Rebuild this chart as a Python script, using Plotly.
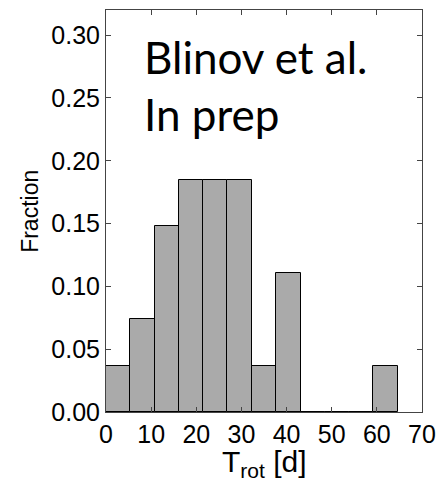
import plotly.graph_objects as go

# Histogram of rotation periods
bin_edges = [0, 5.4, 10.8, 16.2, 21.5, 26.9, 32.3, 37.7, 43.1, 48.5, 53.8, 59.2, 64.6]
fractions = [0.037, 0.074, 0.148, 0.185, 0.185, 0.185, 0.037, 0.111, 0.0, 0.0, 0.0, 0.037]
x_ticks = [0, 10, 20, 30, 40, 50, 60, 70]
y_ticks = [0.00, 0.05, 0.10, 0.15, 0.20, 0.25, 0.30]

centers = [(a + b) / 2 for a, b in zip(bin_edges[:-1], bin_edges[1:])]
widths = [b - a for a, b in zip(bin_edges[:-1], bin_edges[1:])]

fig = go.Figure()
fig.add_trace(go.Bar(
    x=centers, y=fractions, width=widths,
    marker=dict(color="#aaaaaa", line=dict(color="black", width=1)),
    showlegend=False,
))

tick_font = dict(family="Liberation Sans, Arial, sans-serif", size=25, color="black")
fig.update_layout(
    width=445, height=480,
    margin=dict(l=106, r=15, t=9, b=68),
    plot_bgcolor="white", paper_bgcolor="white",
    bargap=0,
    xaxis=dict(range=[0, 70], tickvals=x_ticks, ticktext=[str(v) for v in x_ticks],
               ticks="inside", ticklen=5, tickcolor="#444", showline=True, linecolor="#444",
               linewidth=1, mirror="ticks", showgrid=False, zeroline=False, tickfont=tick_font),
    yaxis=dict(range=[0, 0.32], tickvals=y_ticks, ticktext=[f"{v:.2f}" for v in y_ticks],
               ticks="inside", ticklen=5, tickcolor="#444", showline=True, linecolor="#444",
               linewidth=1, mirror="ticks", showgrid=False, zeroline=False, tickfont=tick_font),
    annotations=[
        dict(text="Blinov et al.<br>In prep", x=8, y=0.305, xref="x", yref="y",
             showarrow=False, align="left", xanchor="left", yanchor="top",
             font=dict(family="Lato, sans-serif", size=44, color="black")),
        dict(text="Fraction", x=-0.241, y=0.5, xref="paper", yref="paper", textangle=-90,
             xanchor="center", yanchor="middle",
             showarrow=False, font=dict(family="Liberation Sans, Arial, sans-serif", size=23, color="black")),
        dict(text="T<sub>rot</sub> [d]", x=0.5, y=-0.128, xref="paper", yref="paper",
             showarrow=False, xanchor="center", yanchor="middle",
             font=dict(family="Liberation Sans, Arial, sans-serif", size=30, color="black")),
    ],
)

fig.write_html("out.html")
